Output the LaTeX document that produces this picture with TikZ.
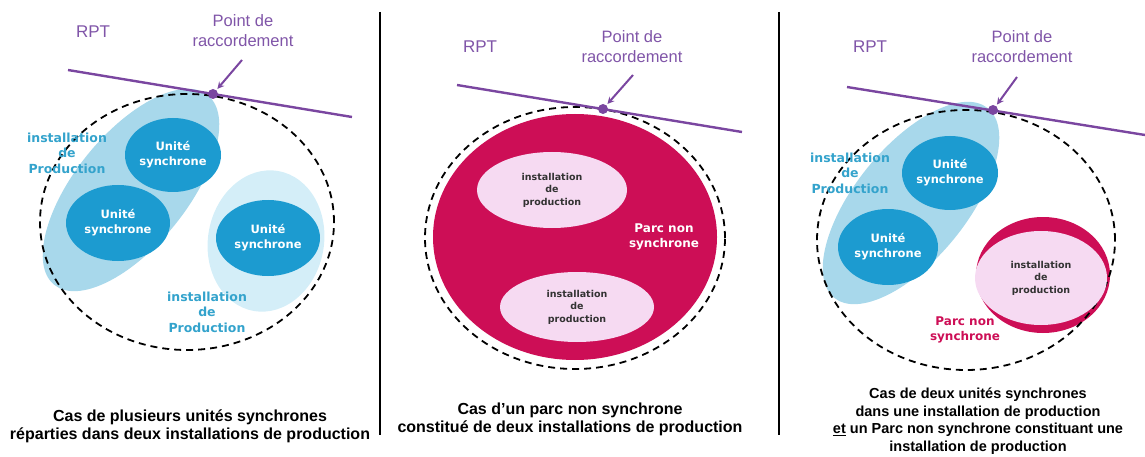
\documentclass[tikz,border=0pt]{standalone}
\usepackage{fontspec}
\setmainfont{Liberation Sans}
\newfontfamily\verd{DejaVu Sans}
\usetikzlibrary{positioning, shapes, arrows}

\definecolor{rptviolet}{RGB}{122,70,160}
\definecolor{txtviolet}{RGB}{128,85,168}
\definecolor{instbleu}{RGB}{168,216,235}
\definecolor{instpale}{RGB}{212,238,248}
\definecolor{unitbleu}{RGB}{28,155,208}
\definecolor{txtbleu}{RGB}{52,163,204}
\definecolor{parcrouge}{RGB}{205,14,86}
\definecolor{instrose}{RGB}{246,218,242}

\begin{document}
\begin{tikzpicture}[x=1pt, y=-1pt]
				\tikzstyle{unite} = [ellipse, fill=unitbleu, text=white, align=center, inner sep=0pt, font=\verd\bfseries\fontsize{11.5}{15}\selectfont]
				\tikzstyle{instal} = [ellipse, fill=instrose, text=black!80, align=center, inner sep=0pt, font=\verd\bfseries\fontsize{9.5}{12.5}\selectfont]
				\tikzstyle{instlabel} = [text=txtbleu, align=center, font=\verd\bfseries\fontsize{12.5}{15.5}\selectfont]
				\tikzstyle{parclabel} = [align=center, font=\verd\bfseries\fontsize{12}{15.5}\selectfont]
				\tikzstyle{rpt} = [rptviolet, line width=2.4pt]
				\tikzstyle{raccord} = [circle, fill=rptviolet, inner sep=0pt, minimum size=10pt]
				\tikzstyle{fleche} = [rptviolet, line width=2pt, ->, >=stealth, shorten >=1.5pt]
				\tikzstyle{rptlabel} = [text=txtviolet, font=\fontsize{17}{20}\selectfont]
				\tikzstyle{pointlabel} = [text=txtviolet, align=center, font=\fontsize{16.5}{20}\selectfont]
				\tikzstyle{perimetre} = [line width=1.8pt, dash pattern=on 7pt off 5pt]
				\tikzstyle{legende} = [align=center, font=\bfseries\fontsize{16}{18}\selectfont]
				\tikzstyle{separateur} = [line width=2pt]
				
				\useasboundingbox (0,0) rectangle (1145,457);
				\draw [separateur] (380,12) -- (380,435);
				\draw [separateur] (779,12) -- (779,435);
				
				% cas 1
				\fill [instbleu, rotate around={51:(131,190)}] (131,190) ellipse [x radius=122pt, y radius=56pt];
				\fill [instpale, rotate around={-10:(266,241)}] (266,241) ellipse [x radius=58pt, y radius=71pt];
				\draw [perimetre] (187,222) ellipse [x radius=147pt, y radius=128pt];
				\draw [rpt] (68,70) -- (352,117);
				\node [raccord] (raccord1) at (213,94) {};
				\node [rptlabel] (rpt1) at (93,32) {RPT};
				\node [pointlabel] (point1) at (243,31) {Point de\\raccordement};
				\coordinate (queue1) at (242,60);
				\draw [fleche] (queue1) -- (raccord1);
				\node [unite, minimum width=96pt, minimum height=74pt] (unite1a) at (173,155) {Unité\\synchrone};
				\node [unite, minimum width=104pt, minimum height=76pt] (unite1b) at (118,223) {Unité\\synchrone};
				\node [unite, minimum width=104pt, minimum height=76pt] (unite1c) at (268,238) {Unité\\synchrone};
				\node [instlabel] (inst1a) at (67,153) {installation\\de\\Production};
				\node [instlabel] (inst1b) at (207,312) {installation\\de\\Production};
				\node [legende] (legende1) at (190,426) {Cas de plusieurs unités synchrones\\réparties dans deux installations de production};
				
				% cas 2
				\draw [perimetre] (575,238) ellipse [x radius=150pt, y radius=131pt];
				\fill [parcrouge] (575,237) ellipse [x radius=142pt, y radius=123pt];
				\draw [rpt] (457,85) -- (742,132);
				\node [raccord] (raccord2) at (603,109) {};
				\node [rptlabel] (rpt2) at (480,47) {RPT};
				\node [pointlabel] (point2) at (632,47) {Point de\\raccordement};
				\coordinate (queue2) at (633,75);
				\draw [fleche] (queue2) -- (raccord2);
				\node [instal, minimum width=150pt, minimum height=76pt] (inst2a) at (552,190) {installation\\de\\production};
				\node [instal, minimum width=154pt, minimum height=70pt] (inst2b) at (577,307) {installation\\de\\production};
				\node [parclabel, text=white] (parc2) at (664,237) {Parc non\\synchrone};
				\node [legende] (legende2) at (570,419) {Cas d'un parc non synchrone\\constitué de deux installations de production};
				
				% cas 3
				\fill [instbleu, rotate around={51:(911,203)}] (911,203) ellipse [x radius=122pt, y radius=56pt];
				\fill [parcrouge] (1043,275) ellipse [x radius=67pt, y radius=58pt];
				\draw [perimetre] (966,240) ellipse [x radius=149pt, y radius=130pt];
				\draw [rpt] (847,87) -- (1145,135);
				\node [raccord] (raccord3) at (993,110) {};
				\node [rptlabel] (rpt3) at (870,47) {RPT};
				\node [pointlabel] (point3) at (1022,47) {Point de\\raccordement};
				\coordinate (queue3) at (1017,77);
				\draw [fleche] (queue3) -- (raccord3);
				\node [unite, minimum width=96pt, minimum height=74pt] (unite3a) at (950,173) {Unité\\synchrone};
				\node [unite, minimum width=100pt, minimum height=76pt] (unite3b) at (888,247) {Unité\\synchrone};
				\node [instal, minimum width=132pt, minimum height=94pt] (inst3) at (1041,278) {installation\\de\\production};
				\node [instlabel] (inst3a) at (850,173) {installation\\de\\Production};
				\node [parclabel, text=parcrouge] (parc3) at (965,330) {Parc non\\synchrone};
				\node [legende, font=\bfseries\fontsize{14.5}{17.5}\selectfont] (legende3) at (978,421) {Cas de deux unités synchrones\\dans une installation de production\\\underline{et} un Parc non synchrone constituant une\\installation de production};
			\end{tikzpicture}
\end{document}
